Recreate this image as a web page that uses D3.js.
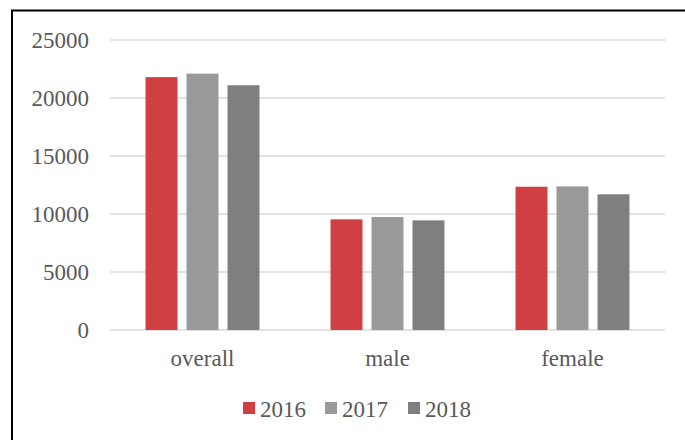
<!DOCTYPE html>
<html>
<head>
<meta charset="utf-8">
<script src="https://cdn.jsdelivr.net/npm/d3@7"></script>
<style>
  html, body { margin: 0; padding: 0; background: #fff; }
  svg { display: block; }
  svg text { font-family: "Liberation Serif", "Times New Roman", Times, "DejaVu Serif", serif; }
</style>
</head>
<body>
<svg id="chart" width="685" height="440"></svg>
<script>
// Chart data
const categories = ["overall", "male", "female"];
const years = ["2016", "2017", "2018"];
const values2016 = [21800, 9540, 12350];
const values2017 = [22100, 9740, 12380];
const values2018 = [21100, 9450, 11700];
const yTicks = [0, 5000, 10000, 15000, 20000, 25000];

const seriesValues = [values2016, values2017, values2018];
const colors = ["#d04042", "#999999", "#7f7f7f"];

const svg = d3.select("#chart");
const textColor = "#595959";

// outer frame (continues past the right and bottom edges)
svg.append("rect")
  .attr("x", 12).attr("y", 10.5)
  .attr("width", 700).attr("height", 460)
  .attr("fill", "none").attr("stroke", "#000").attr("stroke-width", 2);

const plot = { left: 110, right: 665, top: 40, bottom: 330 };

const x0 = d3.scaleBand().domain(categories).range([plot.left, plot.right]).padding(0);
const y = d3.scaleLinear().domain([0, 25000]).range([plot.bottom, plot.top]);

// horizontal grid
svg.append("g").selectAll("line").data(yTicks).join("line")
  .attr("x1", plot.left).attr("x2", plot.right)
  .attr("y1", d => y(d)).attr("y2", d => y(d))
  .attr("stroke", "#d9d9d9").attr("stroke-width", 1.5);

// y tick labels
svg.append("g").selectAll("text").data(yTicks).join("text")
  .attr("x", 89).attr("y", d => y(d) + 8)
  .attr("text-anchor", "end")
  .attr("font-size", 23).attr("fill", textColor)
  .text(d => d);

// bars: group width 114 of 185 band, bars 32 wide with 9 gap
const bw = x0.bandwidth();
const groupInner = bw * 0.616;
const x1 = d3.scaleBand().domain(years)
  .range([(bw - groupInner) / 2, (bw + groupInner) / 2])
  .paddingInner(0.22);

const groups = svg.append("g").selectAll("g").data(categories).join("g")
  .attr("transform", d => `translate(${x0(d)},0)`);

groups.selectAll("rect")
  .data((c, i) => years.map((yr, k) => ({ yr, k, v: seriesValues[k][i] })))
  .join("rect")
  .attr("x", d => x1(d.yr))
  .attr("width", x1.bandwidth())
  .attr("y", d => y(d.v))
  .attr("height", d => y(0) - y(d.v))
  .attr("fill", d => colors[d.k]);

// category labels
svg.append("g").selectAll("text").data(categories).join("text")
  .attr("x", d => x0(d) + bw / 2).attr("y", 366)
  .attr("text-anchor", "middle")
  .attr("font-size", 23).attr("fill", textColor)
  .text(d => d);

// legend
const legendX = [243, 325, 408];
const legend = svg.append("g").selectAll("g").data(years).join("g")
  .attr("transform", (d, i) => `translate(${legendX[i]},0)`);
legend.append("rect")
  .attr("x", 0).attr("y", 402).attr("width", 12).attr("height", 12)
  .attr("fill", (d, i) => colors[i]);
legend.append("text")
  .attr("x", 17).attr("y", 416.5)
  .attr("font-size", 23).attr("fill", textColor)
  .text(d => d);
</script>
</body>
</html>
